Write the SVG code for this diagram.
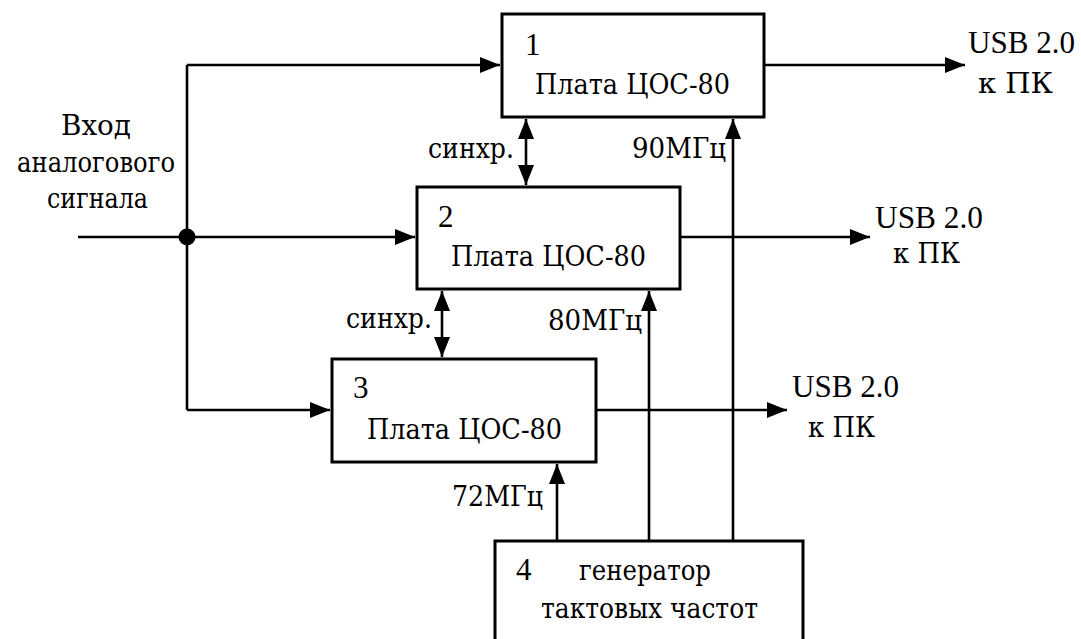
<svg xmlns="http://www.w3.org/2000/svg" width="1081" height="639" viewBox="0 0 1081 639">
<style>
.box{fill:#fff;stroke:#000;stroke-width:3}
.ln{fill:none;stroke:#000;stroke-width:2.6}
.t{font-family:"Liberation Serif","DejaVu Serif","Times New Roman",serif;font-size:31px;fill:#000}
.c{font-family:"DejaVu Serif","Liberation Serif",serif;font-size:27px;fill:#000}
</style>
<defs>
<marker id="ah" viewBox="0 0 20 16" refX="20" refY="8" markerWidth="20" markerHeight="16" markerUnits="userSpaceOnUse" orient="auto-start-reverse">
<path d="M0,0 L20,8 L0,16 Z" fill="#000"/>
</marker>
</defs>
<rect width="1081" height="639" fill="#fff"/>
<g id="connectors">
<path class="ln" d="M78,237 H415" marker-end="url(#ah)"/>
<path class="ln" d="M187,65 V410"/>
<path class="ln" d="M187,65 H500" marker-end="url(#ah)"/>
<path class="ln" d="M187,410 H330" marker-end="url(#ah)"/>
<circle cx="187" cy="237" r="8.5" fill="#000"/>
<path class="ln" d="M764,65 H965" marker-end="url(#ah)"/>
<path class="ln" d="M680,237 H870" marker-end="url(#ah)"/>
<path class="ln" d="M596,410 H787" marker-end="url(#ah)"/>
<path class="ln" d="M526,119 V185" marker-start="url(#ah)" marker-end="url(#ah)"/>
<path class="ln" d="M442,291 V357" marker-start="url(#ah)" marker-end="url(#ah)"/>
<path class="ln" d="M557,541 V464" marker-end="url(#ah)"/>
<path class="ln" d="M649,541 V291" marker-end="url(#ah)"/>
<path class="ln" d="M733,541 V119" marker-end="url(#ah)"/>
</g>
<g id="node1">
<rect class="box" x="502" y="14" width="262" height="103"/>
<text class="t" x="525" y="55">1</text>
<text class="c" x="535" y="94" textLength="195" lengthAdjust="spacingAndGlyphs">Плата ЦОС-80</text>
</g>
<g id="node2">
<rect class="box" x="417" y="187" width="263" height="102"/>
<text class="t" x="438" y="227">2</text>
<text class="c" x="451" y="266" textLength="195" lengthAdjust="spacingAndGlyphs">Плата ЦОС-80</text>
</g>
<g id="node3">
<rect class="box" x="332" y="359" width="264" height="103"/>
<text class="t" x="353" y="398">3</text>
<text class="c" x="367" y="439" textLength="195" lengthAdjust="spacingAndGlyphs">Плата ЦОС-80</text>
</g>
<g id="node4">
<rect class="box" x="495" y="541" width="308" height="110"/>
<text class="t" x="516" y="580">4</text>
<text class="c" x="579" y="580" textLength="132" lengthAdjust="spacingAndGlyphs">генератор</text>
<text class="c" x="541" y="618" textLength="217" lengthAdjust="spacingAndGlyphs">тактовых частот</text>
</g>
<g id="labels">
<text class="c" x="61" y="135" textLength="70" lengthAdjust="spacingAndGlyphs">Вход</text>
<text class="c" x="17" y="172" textLength="158" lengthAdjust="spacingAndGlyphs">аналогового</text>
<text class="c" x="47" y="208" textLength="101" lengthAdjust="spacingAndGlyphs">сигнала</text>
<text class="c" x="428" y="158" textLength="86" lengthAdjust="spacingAndGlyphs">синхр.</text>
<text class="c" x="346" y="328" textLength="86" lengthAdjust="spacingAndGlyphs">синхр.</text>
<text class="c" x="632" y="158" textLength="94" lengthAdjust="spacingAndGlyphs">90МГц</text>
<text class="c" x="548" y="330" textLength="94" lengthAdjust="spacingAndGlyphs">80МГц</text>
<text class="c" x="452" y="506" textLength="91" lengthAdjust="spacingAndGlyphs">72МГц</text>
<text class="t" x="968" y="53" textLength="107" lengthAdjust="spacingAndGlyphs">USB 2.0</text>
<text class="c" x="978" y="93" textLength="75" lengthAdjust="spacingAndGlyphs">к ПК</text>
<text class="t" x="875" y="228" textLength="108" lengthAdjust="spacingAndGlyphs">USB 2.0</text>
<text class="c" x="893" y="263" textLength="67" lengthAdjust="spacingAndGlyphs">к ПК</text>
<text class="t" x="792" y="397" textLength="107" lengthAdjust="spacingAndGlyphs">USB 2.0</text>
<text class="c" x="808" y="437" textLength="67" lengthAdjust="spacingAndGlyphs">к ПК</text>
</g>
</svg>
